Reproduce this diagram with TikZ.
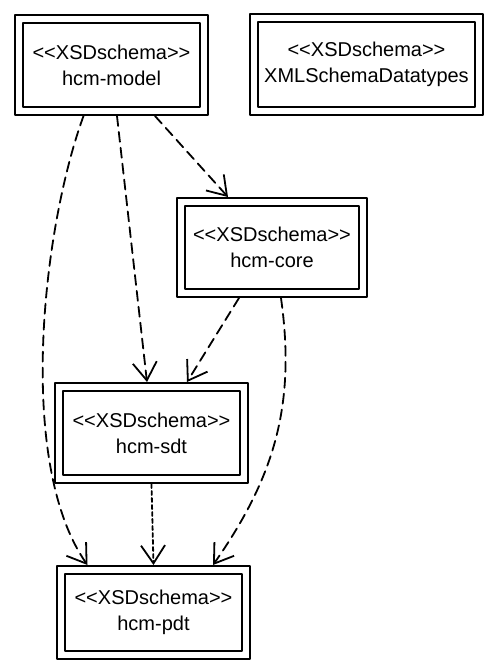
\documentclass[tikz,border=0pt]{standalone}
\usepackage{fontspec}
\newfontfamily\umlfont{Liberation Sans}
\usetikzlibrary{arrows.meta}
\tikzset{
  schemabox/.style={draw,line width=1pt,inner sep=0pt,minimum width=96.5pt,minimum height=50pt,align=center,font=\umlfont\fontsize{10}{13}\selectfont},
  dep/.style={line width=0.9pt,dash pattern=on 5pt off 3pt,-{Straight Barb[length=9pt,width=12pt]}},
}

\begin{document}
\begin{tikzpicture}[x=0.5pt,y=-0.5pt,line cap=round,line join=round]
\path[use as bounding box] (0,0) rectangle (485,660);
\node[schemabox] (model) at (111.5,65) {<<XSDschema>>\\hcm-model};
\node[schemabox,minimum width=116.5pt,minimum height=50.5pt] (xsd) at (366.5,64.5) {<<XSDschema>>\\XMLSchemaDatatypes};
\node[schemabox,minimum width=95pt,minimum height=49.5pt] (core) at (272,247.5) {<<XSDschema>>\\hcm-core};
\node[schemabox] (sdt) at (151.5,433) {<<XSDschema>>\\hcm-sdt};
\node[schemabox,minimum height=46.5pt] (pdt) at (153.5,612.5) {<<XSDschema>>\\hcm-pdt};
\foreach \n in {model,xsd,core,sdt,pdt}
  \draw[line width=0.7pt] ([shift={(4.5pt,-4.5pt)}]\n.north west) rectangle ([shift={(-4.5pt,4.5pt)}]\n.south east);
\draw[dep] ([xshift=-14pt]model.south) to[out=-110,in=125,looseness=0.7] ([xshift=-33pt]pdt.north);
\draw[dep] ([xshift=2.75pt]model.south) -- ([xshift=-2.25pt]sdt.north);
\draw[dep] ([xshift=21.75pt]model.south) -- ([xshift=-22pt]core.north);
\draw[dep] ([xshift=-16.5pt]core.south) -- ([xshift=17.75pt]sdt.north);
\draw[dep] ([xshift=4.5pt]core.south) to[out=-82,in=55] ([xshift=29.75pt]pdt.north);
\draw[dep,dash pattern=on 2pt off 1.5pt] (sdt.south) -- (pdt.north);
\end{tikzpicture}
\end{document}
